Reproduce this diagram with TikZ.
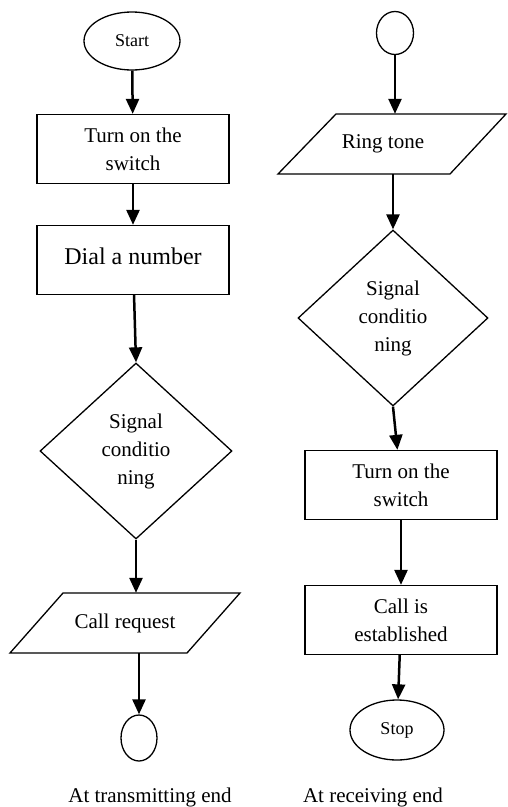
\documentclass[tikz,border=0pt]{standalone}
\usepackage{fontspec}
\setmainfont{Liberation Serif}
\usetikzlibrary{shapes.geometric,arrows.meta,calc}
\begin{document}
\begin{tikzpicture}[x=1pt,y=-1pt,
  every node/.style={font=\fontsize{21}{28}\selectfont, align=center},
  shp/.style={draw, line width=1.3pt},
  boxn/.style={shp, rectangle, minimum width=192pt, minimum height=69pt, inner sep=0pt},
  ovaln/.style={shp, ellipse, inner sep=0pt},
  dian/.style={shp, diamond, aspect=1, inner sep=0pt, minimum width=192pt, minimum height=176pt},
  paran/.style={rectangle, minimum width=172pt, minimum height=60pt, inner sep=0pt},
  flow/.style={line width=2.5pt, -{Triangle[length=15pt,width=13pt]}},
  small/.style={font=\fontsize{18}{22}\selectfont}
]
\useasboundingbox (0,0) rectangle (507,807);

% ---------- left column ----------
\node[ovaln, small, minimum width=96pt, minimum height=58pt] (start) at (132,41) {Start};
\node[boxn] (t1) at (133,149) {Turn on the\\switch};
\node[boxn, font=\fontsize{24}{28}\selectfont] (dial) at (133,260) {\raisebox{8pt}{Dial a number}};
\node[dian] (d1) at (136,451) {Signal\\conditio\\ning};
\node[paran] (cr) at (125,623) {\raisebox{-4pt}{Call request}};
\draw[shp] ($(cr)+(-115,30)$) -- ($(cr)+(62,30)$) -- ($(cr)+(115,-30)$) -- ($(cr)+(-62,-30)$) -- cycle;
\node[ovaln, minimum width=36pt, minimum height=46pt] (e1) at (139,738) {};
\node (lt) at (150,797) {At transmitting end};

\draw[flow] (start) -- (t1);
\draw[flow] (t1) -- (dial);
\draw[flow] (dial) -- (d1.north);
\draw[flow] (d1.south) -- (d1.south |- cr.north);
\draw[flow] (e1.north |- cr.south) -- (e1);

% ---------- right column ----------
\node[ovaln, minimum width=37pt, minimum height=43pt] (e2) at (395,33) {};
\node[paran] (rt) at (392,144) {\hspace*{-18pt}\raisebox{-3pt}{Ring tone}};
\draw[shp] ($(rt)+(-114,30)$) -- ($(rt)+(58,30)$) -- ($(rt)+(114,-30)$) -- ($(rt)+(-56,-30)$) -- cycle;
\node[dian, minimum width=190pt] (d2) at (393,318) {Signal\\conditio\\ning};
\node[boxn] (t2) at (401,485) {Turn on the\\switch};
\node[boxn] (ce) at (401,620) {Call is\\established};
\node[ovaln, small, minimum width=94pt, minimum height=60pt] (stop) at (397,730) {Stop};
\node (lr) at (373,797) {At receiving end};

\draw[flow] (e2) -- (e2 |- rt.north);
\draw[flow] (d2.north |- rt.south) -- (d2.north);
\draw[flow] (d2.south) -- (t2);
\draw[flow] (t2) -- (ce);
\draw[flow] (ce) -- (stop);
\end{tikzpicture}
\end{document}
